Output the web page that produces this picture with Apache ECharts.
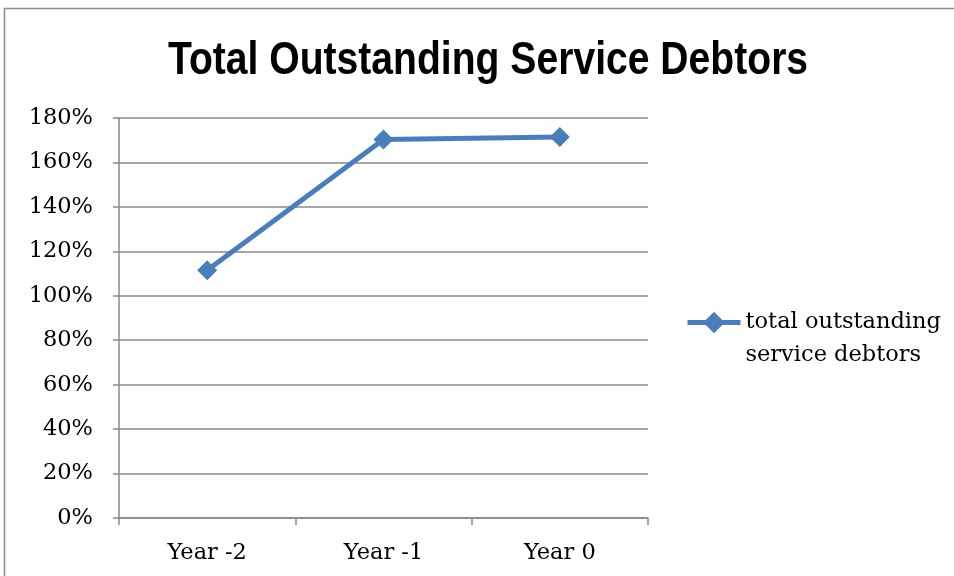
<!DOCTYPE html>
<html>
<head>
<meta charset="utf-8">
<script src="https://cdn.jsdelivr.net/npm/echarts@6/dist/echarts.min.js"></script>
<style>
  html, body { margin: 0; padding: 0; background: #ffffff; }
  #chart { width: 954px; height: 576px; }
</style>
</head>
<body>
<div id="chart"></div>
<script>
// Categories along the x axis
const categories = ['Year -2', 'Year -1', 'Year 0'];
// Outstanding service debtors, percent
const debtorValues = [111.5, 170.3, 171.4];
const seriesName = 'total outstanding service debtors';
const titleText = 'Total Outstanding Service Debtors';
// Y axis range (percent)
const yMin = 0;
const yMax = 180;
const yStep = 20;

const serif = 'DejaVu Serif';
const lineColor = '#4a7ebb';
const gridColor = '#898989';

const chart = echarts.init(document.getElementById('chart'), null, { renderer: 'canvas' });

chart.setOption({
  backgroundColor: '#ffffff',
  animation: false,
  graphic: [{
    // outer chart frame
    type: 'rect',
    shape: { x: 4.5, y: 8.5, width: 980, height: 620 },
    style: { fill: 'none', stroke: '#8c8c8c', lineWidth: 1.5 },
    silent: true,
    z: -1
  }, {
    // condensed bold heading
    type: 'text',
    x: 488,
    y: 38,
    scaleX: 0.85,
    silent: true,
    style: {
      text: titleText,
      font: 'bold 46px "Liberation Sans", Arial, sans-serif',
      fill: '#000000',
      textAlign: 'center',
      textVerticalAlign: 'top'
    }
  }],
  legend: {
    left: 680,
    top: 268,
    orient: 'vertical',
    itemWidth: 53,
    itemHeight: 27,
    itemGap: 0,
    lineStyle: { width: 5 },
    formatter: function () { return '\ntotal outstanding\nservice debtors'; },
    textStyle: {
      fontFamily: serif,
      fontSize: 22.5,
      color: '#000000',
      lineHeight: 33
    },
    data: [seriesName]
  },
  grid: {
    left: 119,
    top: 118,
    right: 306,
    bottom: 58,
    containLabel: false
  },
  xAxis: {
    type: 'category',
    data: categories,
    boundaryGap: true,
    axisLine: { show: true, lineStyle: { color: gridColor, width: 1.5 } },
    axisTick: { show: true, length: 7, lineStyle: { color: gridColor, width: 1.5 } },
    axisLabel: {
      margin: 24,
      fontFamily: serif,
      fontSize: 22.5,
      color: '#000000'
    },
    splitLine: { show: false }
  },
  yAxis: {
    type: 'value',
    min: yMin,
    max: yMax,
    interval: yStep,
    axisLine: { show: true, lineStyle: { color: gridColor, width: 1.5 } },
    axisTick: { show: true, length: 6, inside: false, lineStyle: { color: gridColor, width: 1.5 } },
    axisLabel: {
      margin: 26,
      fontFamily: serif,
      fontSize: 22.5,
      color: '#000000',
      formatter: function (v) { return v + '%'; }
    },
    splitLine: { show: true, lineStyle: { color: gridColor, width: 1.5 } }
  },
  series: [{
    name: seriesName,
    type: 'line',
    data: debtorValues,
    symbol: 'diamond',
    symbolSize: 20,
    lineStyle: { color: lineColor, width: 5 },
    itemStyle: { color: lineColor },
    emphasis: { disabled: true }
  }]
});
</script>
</body>
</html>
